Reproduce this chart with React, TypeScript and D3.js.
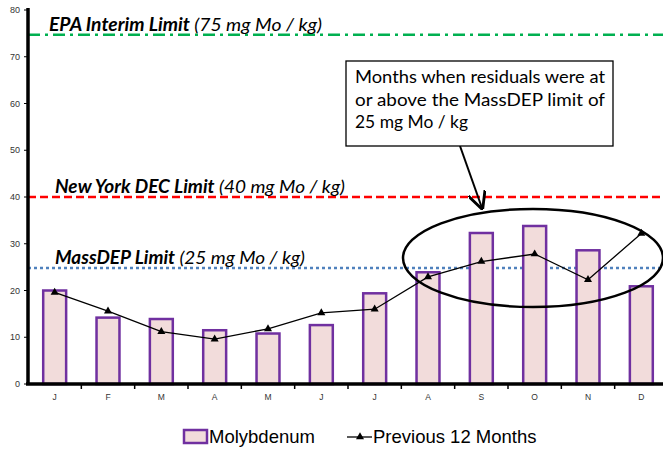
import React from 'react'
import * as d3 from 'd3'

const months = ['J', 'F', 'M', 'A', 'M', 'J', 'J', 'A', 'S', 'O', 'N', 'D']
const molybdenum = [20, 14.2, 13.9, 11.5, 10.8, 12.6, 19.4, 23.9, 32.3, 33.8, 28.6, 20.9]
const previous12 = [19.6, 15.6, 11.2, 9.6, 11.8, 15.2, 16.0, 22.9, 26.2, 27.8, 22.3, 32.2]
const yTicks = [0, 10, 20, 30, 40, 50, 60, 70, 80]
const limits = [
  { value: 74.7, bold: 'EPA Interim Limit', rest: ' (75 mg Mo / kg)', color: '#00b050', dash: '12,5,3,5', x: 49, w: 273 },
  { value: 40, bold: 'New York DEC Limit', rest: ' (40 mg Mo / kg)', color: '#ff0000', dash: '8,4', x: 55, w: 290 },
  { value: 24.8, bold: 'MassDEP Limit', rest: ' (25 mg Mo / kg)', color: '#4f81bd', dash: '3,3', x: 55, w: 250 },
]
const noteLines = ['Months when residuals were at', 'or above the MassDEP limit of', '25 mg Mo / kg']

const W = 663
const H = 450

const App: React.FC = () => {
  const x = d3.scaleBand<number>().domain(d3.range(months.length)).range([28, 668]).paddingInner(0.57).paddingOuter(0.285)
  const band = d3.scaleBand<number>().domain(d3.range(months.length)).range([28, 668])
  const y = d3.scaleLinear().domain([0, 80]).range([384, 10])
  const cx = (i: number) => (x(i) as number) + x.bandwidth() / 2
  const line = d3
    .line<number>()
    .x((_, i) => cx(i))
    .y(d => y(d))
  const tri = d3.symbol(d3.symbolTriangle, 28)()

  return (
    <svg width={W} height={H} style={{ position: 'absolute', left: 0, top: 0, background: '#fff' }}>
      <defs>
        <marker id="arrow" viewBox="0 0 10 10" refX="9" refY="5" markerWidth="9" markerHeight="9" orient="auto">
          <path d="M0,0 L10,5 L0,10" fill="none" stroke="#000" strokeWidth="1.6" />
        </marker>
      </defs>

      {/* limit lines */}
      {limits.map(l => (
        <g key={l.bold}>
          <line x1={28} x2={W} y1={y(l.value)} y2={y(l.value)} stroke={l.color} strokeWidth={2.5} strokeDasharray={l.dash} />
          <text
            x={l.x}
            y={y(l.value) - 4}
            fontFamily="Lato, sans-serif"
            fontSize={18}
            fontStyle="italic"
            fill="#000"
            textLength={l.w}
            lengthAdjust="spacingAndGlyphs"
          >
            <tspan fontWeight="bold">{l.bold}</tspan>
            <tspan>{l.rest}</tspan>
          </text>
        </g>
      ))}

      {/* bars */}
      {molybdenum.map((v, i) => (
        <rect
          key={i}
          x={x(i)}
          y={y(v)}
          width={x.bandwidth()}
          height={y(0) - y(v)}
          fill="#f2dcdb"
          stroke="#7030a0"
          strokeWidth={2.5}
        />
      ))}

      {/* previous 12 months */}
      <path d={line(previous12) || ''} fill="none" stroke="#000" strokeWidth={1.3} />
      {previous12.map((v, i) => (
        <path key={i} d={tri || ''} transform={`translate(${cx(i)},${y(v)})`} fill="#000" />
      ))}

      {/* axes */}
      <line x1={28} x2={28} y1={8} y2={385} stroke="#000" strokeWidth={3.5} />
      <line x1={26} x2={W} y1={384} y2={384} stroke="#000" strokeWidth={3.5} />
      {yTicks.map(t => (
        <g key={t}>
          <line x1={24} x2={28} y1={y(t)} y2={y(t)} stroke="#000" strokeWidth={1} />
          <text x={20} y={y(t) + 3} textAnchor="end" fontFamily="Arial, sans-serif" fontSize={9} fill="#333">
            {t}
          </text>
        </g>
      ))}
      {months.map((m, i) => (
        <g key={i}>
          <line x1={(band(i) as number) + band.bandwidth()} x2={(band(i) as number) + band.bandwidth()} y1={384} y2={389} stroke="#000" strokeWidth={1.5} />
          <text x={cx(i)} y={400} textAnchor="middle" fontFamily="Arial, sans-serif" fontSize={8.5} fill="#333">
            {m}
          </text>
        </g>
      ))}

      {/* annotation */}
      <ellipse cx={533} cy={258} rx={130} ry={49} fill="none" stroke="#000" strokeWidth={2.5} />
      <line x1={460} y1={146} x2={482} y2={208} stroke="#000" strokeWidth={2} markerEnd="url(#arrow)" />
      <rect x={346} y={61} width={267} height={85} fill="#fff" stroke="#000" strokeWidth={1.3} />
      {noteLines.map((t, i) => (
        <text
          key={i}
          x={355}
          y={83 + i * 22.5}
          fontFamily="Lato, sans-serif"
          fontSize={17}
          fill="#000"
          textLength={i < 2 ? 250 : 113}
          lengthAdjust="spacingAndGlyphs"
        >
          {t}
        </text>
      ))}

      {/* legend */}
      <rect x={184} y={430} width={23} height={13} fill="#f2dcdb" stroke="#7030a0" strokeWidth={2.5} />
      <text x={209} y={443} fontFamily="Arial, sans-serif" fontSize={18.5} fill="#000">
        Molybdenum
      </text>
      <line x1={347} x2={372} y1={437} y2={437} stroke="#000" strokeWidth={1.3} />
      <path d={tri || ''} transform="translate(360,437)" fill="#000" />
      <text x={373} y={443} fontFamily="Arial, sans-serif" fontSize={18.5} fill="#000">
        Previous 12 Months
      </text>
    </svg>
  )
}

export default App
